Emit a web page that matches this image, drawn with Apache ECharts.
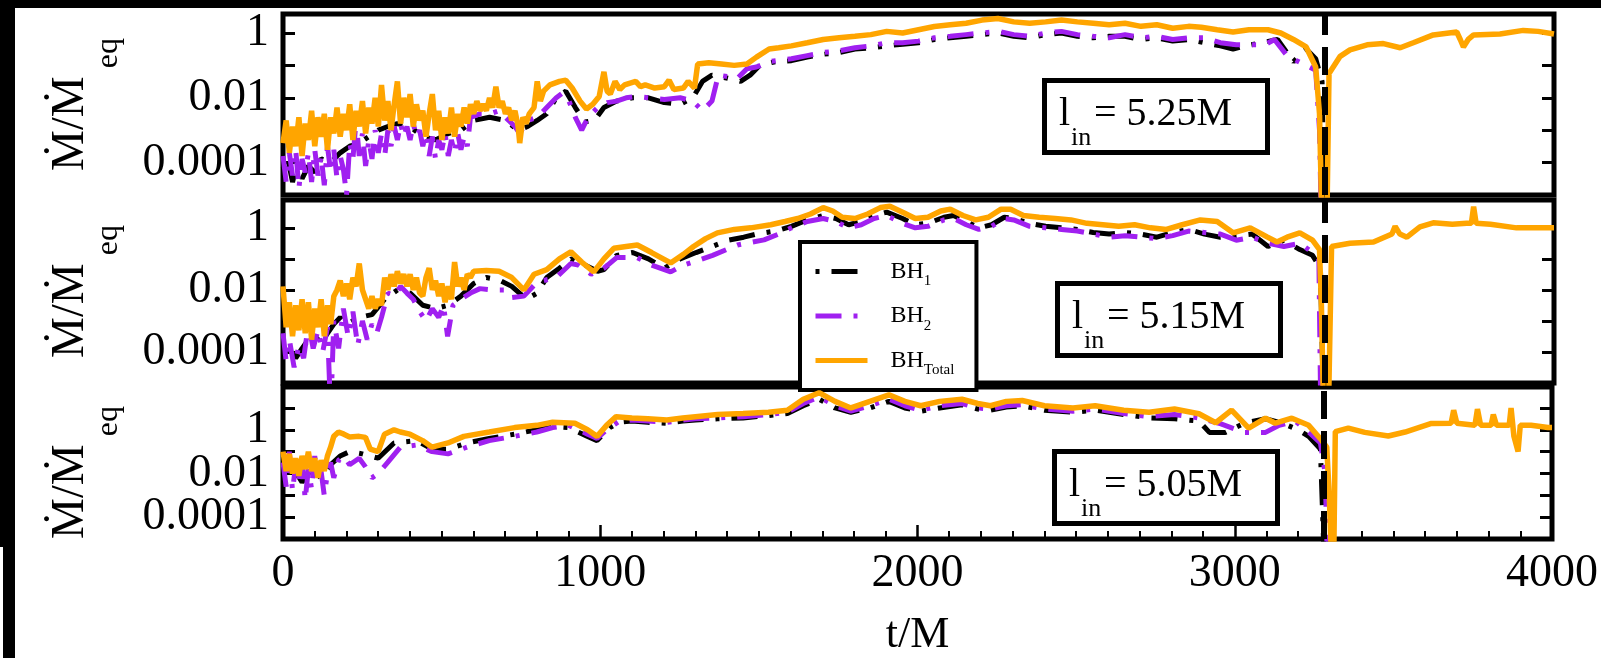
<!DOCTYPE html>
<html><head><meta charset="utf-8">
<script src="https://cdn.jsdelivr.net/npm/echarts@6/dist/echarts.min.js"></script>
<style>
html,body{margin:0;padding:0;background:#fff;overflow:hidden}
#chart{position:absolute;left:0;top:0;width:1601px;height:658px;background:#fff}
.blk{position:absolute;background:#000;z-index:5}
</style></head>
<body>
<div id="chart"></div>
<div class="blk" style="left:0;top:0;width:1601px;height:8px"></div>
<div class="blk" style="left:0;top:0;width:15px;height:547px"></div>
<div class="blk" style="left:3px;top:547px;width:12px;height:111px"></div>
<script>
// ---------- axis settings / labels ----------
const tMin = 0, tMax = 4000, tStep = 1000;
const mergerT = 3280;
const yMin = 1e-5;
const yMaxPanels = [3.85, 7.9, 91];
const yTickValues = [1, 0.01, 0.0001];
const yTickText = ['1', '0.01', '0.0001'];
const seriesNames = ['BH1', 'BH2', 'BHTotal'];
const legendSub = ['1', '2', 'Total'];
const linLabels = ['5.25M', '5.15M', '5.05M'];
const yTitle = '{m|\u1E40/\u1E40}{e|eq}';

// ---------- data: [t/M, Mdot/Mdot_eq] ----------
// panel 1 (l_in = 5.25M)
const p1BH1 = [[0,6.3e-5],[15,1.3e-4],[30,2.5e-5],[45,1.0e-4],[60,3.2e-5],[80,7.9e-5],[100,5.0e-5],[120,1.3e-4],[150,1.0e-4],[180,2.0e-4],[210,3.2e-4],[240,4.0e-4],[270,6.3e-4],[300,1.0e-3],[330,1.3e-3],[360,1.6e-3],[400,1.3e-3],[440,6.3e-4],[480,5.0e-4],[520,7.9e-4],[560,1.0e-3],[600,2.0e-3],[650,2.5e-3],[700,2.0e-3],[740,1.0e-3],[770,1.3e-3],[800,2.0e-3],[830,3.2e-3],[860,1.0e-2],[890,1.6e-2],[920,5.0e-3],[950,1.8e-3],[980,2.0e-3],[1010,5.0e-3],[1050,7.9e-3],[1100,1.0e-2],[1150,1.0e-2],[1200,7.1e-3],[1250,6.3e-3],[1290,1.0e-2],[1320,3.2e-2],[1350,5.0e-2],[1400,4.0e-2],[1440,3.2e-2],[1470,5.0e-2],[1500,0.1],[1550,0.13],[1600,0.14],[1650,0.18],[1700,0.22],[1750,0.25],[1800,0.32],[1850,0.35],[1900,0.40],[1950,0.45],[2000,0.50],[2050,0.63],[2100,0.71],[2150,0.79],[2200,0.89],[2250,1.0],[2300,0.79],[2350,0.71],[2400,0.89],[2450,1.0],[2500,0.79],[2550,0.71],[2600,0.79],[2650,0.79],[2700,0.63],[2750,0.71],[2800,0.56],[2850,0.63],[2900,0.50],[2950,0.40],[2990,0.32],[3030,0.40],[3080,0.50],[3130,0.63],[3180,0.13],[3220,0.32],[3250,0.16],[3270,3.2e-2],[3278,1e-6]];
const p1BH2 = [[0,1.6e-4],[10,2.5e-5],[20,2.0e-4],[30,4.0e-5],[40,2.5e-4],[50,1.6e-5],[60,1.3e-4],[70,5.0e-5],[80,2.0e-4],[90,2.5e-5],[100,2.5e-4],[110,4.0e-5],[120,1.6e-4],[130,2.0e-5],[140,3.2e-4],[150,5.0e-5],[160,2.5e-4],[170,3.2e-5],[180,1.6e-4],[190,6.3e-5],[200,1.0e-5],[210,4.0e-4],[220,1.3e-4],[230,2.0e-3],[240,1.6e-4],[250,7.9e-4],[260,7.9e-5],[270,5.0e-4],[280,1.3e-4],[290,1.0e-3],[300,2.0e-4],[310,7.9e-4],[320,1.6e-4],[330,1.0e-3],[340,3.2e-4],[350,1.3e-3],[360,5.0e-4],[370,1.6e-3],[380,6.3e-4],[390,1.3e-3],[400,5.0e-4],[410,1.6e-3],[420,6.3e-4],[430,1.0e-3],[440,3.2e-4],[450,7.9e-4],[460,1.6e-4],[470,6.3e-4],[480,1.3e-4],[490,5.0e-4],[500,2.5e-4],[510,7.9e-4],[520,1.6e-4],[530,5.0e-4],[540,2.0e-4],[550,7.9e-4],[560,2.5e-4],[570,6.3e-4],[580,3.2e-4],[590,2.5e-3],[620,3.2e-3],[650,3.2e-3],[680,4.0e-3],[700,2.5e-3],[730,1.3e-3],[745,7.9e-4],[770,2.0e-3],[800,2.5e-3],[830,5.0e-3],[860,1.0e-2],[880,1.4e-2],[900,7.9e-3],[920,2.5e-3],[940,1.0e-3],[960,2.5e-3],[990,5.0e-3],[1020,7.1e-3],[1050,7.9e-3],[1080,1.0e-2],[1110,1.1e-2],[1150,1.0e-2],[1200,8.9e-3],[1250,1.0e-2],[1290,7.9e-3],[1320,4.0e-3],[1350,7.9e-3],[1370,5.0e-2],[1400,4.5e-2],[1430,4.0e-2],[1460,7.9e-2],[1490,8.9e-2],[1530,0.13],[1600,0.16],[1650,0.20],[1700,0.25],[1750,0.28],[1800,0.35],[1850,0.40],[1900,0.50],[1950,0.50],[2000,0.56],[2050,0.71],[2100,0.79],[2150,0.89],[2200,1.0],[2250,1.12],[2300,0.89],[2350,0.79],[2400,1.0],[2450,1.12],[2500,0.89],[2550,0.79],[2600,0.71],[2650,0.89],[2700,0.71],[2750,0.79],[2800,0.63],[2850,0.71],[2900,0.71],[2950,0.50],[3000,0.43],[3050,0.43],[3090,0.43],[3120,0.63],[3160,0.20],[3190,0.14],[3220,0.10],[3250,0.071],[3262,1.0e-3],[3268,1e-6]];
const p1Total = [[0,4.0e-4],[10,2.0e-3],[20,2.0e-4],[30,1.3e-3],[40,3.2e-4],[50,2.5e-3],[60,1.6e-4],[70,1.6e-3],[80,5.0e-4],[90,4.0e-3],[100,3.2e-4],[110,2.5e-3],[120,6.3e-4],[130,3.2e-3],[140,2.5e-4],[150,2.5e-3],[160,7.9e-4],[170,5.0e-3],[180,6.3e-4],[190,3.2e-3],[200,1.0e-3],[210,6.3e-3],[220,5.0e-4],[230,4.0e-3],[240,1.3e-3],[250,7.9e-3],[260,7.9e-4],[270,5.0e-3],[280,1.6e-3],[290,1.0e-2],[300,1.3e-3],[310,2.5e-2],[320,2.0e-3],[330,7.9e-3],[340,1.0e-3],[350,6.3e-3],[360,3.2e-2],[370,1.6e-3],[380,1.0e-2],[390,2.5e-3],[400,1.3e-2],[410,1.3e-3],[420,6.3e-3],[430,2.0e-3],[440,4.0e-3],[450,6.3e-4],[460,3.2e-3],[470,1.3e-2],[480,1.0e-3],[490,4.0e-3],[500,5.0e-4],[510,2.5e-3],[520,7.9e-4],[530,5.0e-3],[540,6.3e-4],[550,3.2e-3],[560,1.3e-3],[570,5.0e-3],[580,1.6e-3],[590,6.3e-3],[600,3.2e-3],[610,7.9e-3],[620,4.0e-3],[630,6.3e-3],[640,4.0e-3],[650,1.0e-2],[660,5.0e-3],[670,2.2e-2],[680,5.0e-3],[690,7.9e-3],[700,3.2e-3],[710,5.0e-3],[720,2.0e-3],[730,4.0e-3],[740,1.3e-3],[745,4.0e-4],[755,2.5e-3],[765,1.6e-3],[775,3.2e-3],[790,5.0e-3],[800,3.2e-2],[810,7.9e-3],[820,1.6e-2],[840,2.5e-2],[870,3.2e-2],[890,3.5e-2],[910,2.0e-2],[935,7.9e-3],[955,4.5e-3],[975,6.3e-3],[995,1.1e-2],[1010,6.3e-2],[1020,1.6e-2],[1030,1.3e-2],[1045,3.2e-2],[1060,1.8e-2],[1075,2.5e-2],[1090,2.8e-2],[1110,3.2e-2],[1125,2.2e-2],[1140,2.5e-2],[1170,2.0e-2],[1200,2.2e-2],[1215,3.5e-2],[1230,1.8e-2],[1260,2.0e-2],[1275,3.2e-2],[1295,2.0e-2],[1305,0.11],[1340,0.12],[1380,0.11],[1420,0.10],[1460,0.11],[1490,0.18],[1530,0.32],[1560,0.35],[1600,0.40],[1650,0.50],[1700,0.63],[1750,0.71],[1800,0.79],[1850,0.89],[1900,1.12],[1950,1.0],[2000,1.26],[2050,1.58],[2100,1.78],[2150,2.0],[2200,2.5],[2250,2.8],[2300,2.2],[2350,2.0],[2400,2.2],[2450,2.5],[2500,2.2],[2550,2.0],[2600,1.8],[2650,2.0],[2700,1.6],[2750,1.8],[2800,1.4],[2850,1.6],[2890,1.5],[2940,1.26],[2990,1.07],[3040,1.26],[3100,1.26],[3140,1.0],[3180,0.63],[3220,0.37],[3250,0.089],[3262,3.2e-3],[3270,1e-6],[3285,1e-6],[3292,0.056],[3327,0.19],[3358,0.30],[3412,0.43],[3463,0.47],[3516,0.35],[3557,0.50],[3620,0.87],[3694,1.07],[3705,0.63],[3715,0.37],[3730,0.63],[3747,0.87],[3830,0.93],[3903,1.2],[3950,1.12],[4000,0.93]];

// panel 2 (l_in = 5.15M)
const p2BH1 = [[0,1.0e-4],[20,1.6e-4],[40,6.3e-5],[60,1.3e-4],[80,2.5e-4],[100,3.2e-4],[120,2.0e-4],[140,4.0e-4],[160,7.9e-4],[180,1.3e-3],[200,7.9e-4],[240,1.3e-3],[280,1.6e-3],[320,5.0e-3],[360,1.0e-2],[400,7.9e-3],[440,3.2e-3],[480,2.5e-3],[520,3.2e-3],[560,6.3e-3],[600,1.6e-2],[640,2.5e-2],[680,2.1e-2],[720,1.3e-2],[766,5.0e-3],[800,7.9e-3],[830,2.5e-2],[870,5.0e-2],[906,0.1],[950,6.3e-2],[990,4.0e-2],[1010,4.5e-2],[1050,0.13],[1100,0.16],[1150,0.1],[1200,5.0e-2],[1250,0.1],[1300,0.16],[1350,0.25],[1400,0.4],[1450,0.5],[1490,0.63],[1550,0.79],[1600,1.12],[1650,1.8],[1700,2.5],[1740,2.0],[1780,1.26],[1820,1.6],[1860,2.5],[1900,3.2],[1950,2.0],[1990,1.26],[2030,1.4],[2080,2.2],[2110,2.5],[2150,1.6],[2190,1.0],[2230,1.26],[2270,2.2],[2300,2.0],[2350,1.4],[2400,1.12],[2450,1.0],[2500,0.89],[2550,0.71],[2600,0.63],[2650,0.71],[2700,0.63],[2750,0.5],[2800,0.71],[2850,0.89],[2900,0.63],[2950,0.5],[3000,0.56],[3050,0.63],[3100,0.25],[3150,0.4],[3200,0.2],[3240,0.13],[3265,0.05],[3275,1e-6]];
const p2BH2 = [[0,4.0e-4],[10,5.0e-5],[20,2.5e-4],[35,3.2e-5],[50,1.6e-4],[65,6.3e-5],[80,7.9e-4],[95,1.3e-4],[110,5.0e-4],[125,1.0e-4],[140,6.3e-4],[150,1e-6],[160,1.0e-3],[175,1.3e-4],[190,2.5e-3],[205,3.2e-4],[220,2.0e-3],[235,1.6e-4],[250,1.0e-3],[265,2.5e-4],[280,7.9e-4],[295,4.0e-4],[310,1.3e-3],[330,7.9e-3],[350,6.3e-3],[370,1.3e-2],[390,7.9e-3],[410,5.0e-3],[430,2.0e-3],[450,1.0e-3],[470,2.5e-3],[490,1.3e-3],[505,3.2e-3],[518,3.2e-4],[535,3.2e-3],[560,5.0e-3],[590,7.9e-3],[620,1.1e-2],[660,1.0e-2],[695,1.0e-2],[716,5.6e-3],[758,6.3e-3],[800,1.8e-2],[860,2.5e-2],[906,7.1e-2],[930,6.3e-2],[970,3.2e-2],[1010,5.0e-2],[1050,0.11],[1115,0.11],[1160,6.3e-2],[1220,3.8e-2],[1260,6.3e-2],[1290,7.9e-2],[1352,0.13],[1430,0.28],[1514,0.41],[1560,0.63],[1600,1.0],[1650,1.6],[1700,2.0],[1740,1.6],[1780,1.0],[1820,1.26],[1860,2.0],[1900,2.5],[1950,1.4],[1990,1.0],[2030,1.12],[2080,1.8],[2110,2.0],[2150,1.26],[2190,0.89],[2230,1.12],[2270,2.0],[2300,1.8],[2350,1.12],[2400,1.0],[2450,0.89],[2500,0.79],[2550,0.63],[2600,0.50],[2650,0.56],[2700,0.50],[2750,0.45],[2800,0.56],[2850,0.79],[2900,0.71],[2950,0.63],[3000,0.40],[3050,0.50],[3100,0.32],[3150,0.25],[3200,0.32],[3240,0.16],[3260,0.1],[3266,1e-6]];
const p2Total = [[0,1.3e-2],[10,6.3e-4],[20,4.0e-3],[30,3.2e-4],[40,3.2e-3],[50,5.0e-4],[60,5.0e-3],[70,4.0e-4],[80,4.0e-3],[90,2.5e-4],[100,2.5e-3],[110,6.3e-4],[120,5.0e-3],[130,3.2e-4],[140,3.2e-3],[150,7.9e-4],[160,6.3e-3],[170,1.0e-2],[180,2.0e-2],[190,6.3e-3],[200,1.6e-2],[210,5.0e-3],[220,2.5e-2],[230,1.3e-2],[240,7.1e-2],[250,1.0e-2],[260,5.0e-3],[270,2.5e-3],[280,6.3e-3],[290,2.5e-3],[300,5.0e-3],[310,3.2e-3],[320,2.5e-2],[330,1.0e-2],[340,3.2e-2],[350,1.3e-2],[360,4.0e-2],[370,1.6e-2],[380,3.2e-2],[390,1.3e-2],[400,3.2e-2],[410,1.0e-2],[420,2.5e-2],[430,7.9e-3],[440,6.3e-3],[450,2.5e-2],[460,5.0e-2],[470,1.0e-2],[480,2.0e-2],[490,6.3e-3],[500,1.6e-2],[510,4.0e-3],[520,1.3e-2],[530,5.0e-3],[540,7.9e-2],[550,1.3e-2],[560,2.5e-2],[570,1.0e-2],[580,3.2e-2],[590,2.5e-2],[600,4.0e-2],[640,4.2e-2],[680,4.0e-2],[720,2.5e-2],[758,1.0e-2],[790,3.2e-2],[830,4.5e-2],[870,0.1],[906,0.17],[940,7.9e-2],[978,3.8e-2],[1010,0.1],[1041,0.22],[1080,0.25],[1115,0.28],[1160,0.16],[1220,7.4e-2],[1260,0.14],[1292,0.25],[1330,0.45],[1367,0.69],[1420,0.89],[1472,1.0],[1535,1.26],[1580,1.6],[1620,2.0],[1660,2.8],[1700,4.5],[1730,3.5],[1760,2.2],[1800,2.0],[1840,2.8],[1880,4.5],[1910,5.0],[1950,3.2],[1990,2.0],[2030,2.2],[2070,3.5],[2100,4.0],[2140,2.5],[2180,1.8],[2220,2.2],[2260,4.0],[2290,4.0],[2330,2.5],[2380,2.2],[2430,2.0],[2480,1.8],[2530,1.4],[2580,1.26],[2630,1.12],[2680,1.26],[2730,1.0],[2780,0.89],[2830,1.26],[2887,1.8],[2940,1.6],[2990,0.69],[3044,1.0],[3097,0.51],[3128,0.35],[3160,0.50],[3200,0.69],[3240,0.40],[3262,0.20],[3268,3.2e-3],[3275,1e-6],[3290,1e-6],[3300,0.25],[3358,0.32],[3432,0.35],[3490,0.63],[3500,1.12],[3515,0.63],[3537,0.50],[3578,1.07],[3620,1.45],[3680,1.3],[3725,1.4],[3740,1.4],[3747,4.8],[3755,1.4],[3800,1.3],[3882,1.0],[3934,1.0],[3987,1.0],[4000,1.0]];

// panel 3 (l_in = 5.05M)
const p3BH1 = [[0,1.0e-2],[30,2.0e-2],[60,4.0e-3],[90,1.6e-2],[120,6.3e-3],[150,2.5e-2],[180,6.3e-2],[210,0.1],[250,7.9e-2],[300,5.0e-2],[350,0.25],[420,0.32],[470,0.13],[520,0.13],[580,0.25],[650,0.4],[730,0.63],[800,1.0],[850,1.4],[900,1.26],[960,0.5],[990,0.32],[1030,1.26],[1060,2.2],[1100,2.5],[1150,2.2],[1210,2.0],[1260,2.5],[1300,2.8],[1370,3.2],[1450,3.5],[1530,4.5],[1590,5.6],[1640,12.6],[1690,25],[1740,10],[1790,6.3],[1850,10],[1910,20],[1960,10],[2010,7.1],[2070,10],[2140,14],[2190,8.9],[2230,7.9],[2280,11],[2330,12.6],[2400,7.9],[2490,6.3],[2560,7.9],[2650,5.0],[2730,3.5],[2810,3.2],[2887,2.5],[2920,0.76],[2970,0.76],[3030,2.0],[3097,3.2],[3150,2.0],[3200,1.0],[3233,0.5],[3270,0.13],[3282,1e-6]];
const p3BH2 = [[0,3.2e-2],[10,2.5e-3],[20,0.1],[30,1.6e-3],[40,2.5e-2],[50,4.0e-3],[60,5.0e-2],[70,6.3e-4],[80,1.6e-2],[90,2.0e-3],[100,6.3e-2],[110,5.0e-3],[120,1.3e-2],[130,1.0e-3],[140,1.0e-2],[150,3.2e-2],[160,6.3e-3],[175,4.0e-2],[192,6.3e-2],[210,2.5e-2],[240,5.0e-2],[260,2.0e-2],[280,6.3e-3],[300,1.0e-2],[330,3.2e-2],[370,0.16],[420,0.2],[470,0.1],[520,7.9e-2],[580,0.16],[650,0.32],[730,0.5],[800,0.79],[850,1.26],[900,1.6],[960,0.63],[990,0.4],[1020,1.0],[1060,2.5],[1100,2.8],[1150,2.5],[1210,2.2],[1260,2.8],[1300,3.2],[1370,3.5],[1450,4.0],[1530,5.0],[1590,6.3],[1640,16],[1690,32],[1740,12.6],[1790,7.1],[1850,12.6],[1910,25],[1960,12.6],[2010,7.9],[2070,12.6],[2140,16],[2190,10],[2230,8.9],[2280,12.6],[2330,14],[2400,8.9],[2490,7.1],[2560,8.9],[2650,5.6],[2730,4.0],[2810,5.0],[2887,3.5],[2950,2.0],[3030,0.76],[3097,0.76],[3140,1.6],[3190,2.5],[3233,0.79],[3270,0.25],[3285,1.0e-2],[3292,1e-6]];
const p3Total = [[0,0.1],[10,1.3e-2],[20,7.9e-2],[30,1.0e-2],[40,5.0e-2],[50,7.9e-3],[60,6.3e-2],[70,1.6e-2],[80,0.1],[90,1.3e-2],[100,5.0e-2],[110,6.3e-3],[120,4.0e-2],[130,1.3e-2],[140,6.3e-2],[150,0.16],[160,0.5],[175,0.79],[192,0.63],[210,0.47],[240,0.5],[260,0.45],[275,0.13],[300,0.1],[320,0.63],[350,1.0],[370,0.79],[400,0.63],[440,0.32],[470,0.16],[520,0.25],[570,0.5],[650,0.79],[730,1.26],[800,1.6],[850,2.2],[920,2.0],[960,1.0],[990,0.5],[1020,1.6],[1050,4.0],[1100,3.5],[1150,3.2],[1210,2.8],[1260,3.5],[1300,4.0],[1370,5.0],[1450,5.6],[1530,6.3],[1590,7.9],[1640,25],[1690,50],[1740,20],[1790,10],[1850,20],[1910,40],[1960,20],[2010,12.6],[2070,20],[2140,25],[2190,16],[2230,12.6],[2280,20],[2330,22],[2400,12.6],[2490,10],[2560,12.6],[2650,7.9],[2730,6.3],[2810,8.9],[2887,5.4],[2940,2.1],[2990,7.9],[3044,1.2],[3097,3.4],[3128,2.0],[3180,3.4],[3233,1.6],[3274,0.33],[3290,0.16],[3298,1.0e-3],[3305,1e-6],[3312,1e-6],[3317,0.83],[3358,1.2],[3410,0.76],[3484,0.52],[3537,0.79],[3620,1.95],[3682,2.0],[3690,7.9],[3700,2.0],[3757,1.6],[3765,8.9],[3775,1.6],[3808,1.6],[3815,5.0],[3825,1.6],[3865,1.6],[3871,10],[3880,0.5],[3893,0.1],[3900,1.6],[3934,1.6],[3987,1.26],[4000,1.26]];

const panelData = [[p1BH1, p1BH2, p1Total], [p2BH1, p2BH2, p2Total], [p3BH1, p3BH2, p3Total]];

// ---------- styling ----------
const FONT = '"Liberation Serif", "DejaVu Serif", serif';
const colors = ['#000000', '#A020F0', '#FFA500'];
const dashTypes = [[4, 12, 26, 12], [26, 12, 4, 12], 'solid'];
const lineWidths = [5, 5, 5.5];
const grids = [
  {left: 283, width: 1271, top: 14, height: 181},
  {left: 283, width: 1271, top: 200, height: 183},
  {left: 283, width: 1271, top: 387, height: 171}
];
const boxes = [{x: 1042, y: 78}, {x: 1055, y: 281}, {x: 1052, y: 449}];
const yTitleX = 71;

function fmtY(v) {
  const lv = Math.log10(v);
  for (let k = 0; k < yTickValues.length; k++) {
    if (Math.abs(lv - Math.log10(yTickValues[k])) < 0.01) return yTickText[k];
  }
  return '';
}

const chart = echarts.init(document.getElementById('chart'), null, {renderer: 'canvas'});

const gridOpts = grids.map(g => Object.assign({
  show: true, borderColor: '#000', borderWidth: 5, backgroundColor: 'transparent', containLabel: false
}, g));

const xAxes = grids.map((g, i) => ({
  type: 'value', gridIndex: i, min: tMin, max: tMax, interval: tStep,
  show: i === 2,
  axisLine: {show: false},
  splitLine: {show: false},
  axisTick: {show: true, inside: true, length: 14, lineStyle: {color: '#000', width: 2.5}},
  minorTick: {show: true, splitNumber: 10, length: 8, lineStyle: {color: '#000', width: 2}},
  axisLabel: {fontFamily: FONT, fontSize: 46, color: '#000', margin: 12, formatter: v => String(v)},
  name: i === 2 ? 't/M' : '',
  nameLocation: 'middle', nameGap: 74,
  nameTextStyle: {fontFamily: FONT, fontSize: 44, color: '#000'}
}));

const yAxes = [];
grids.forEach((g, i) => {
  const common = {
    type: 'log', logBase: 10, gridIndex: i, min: yMin, max: yMaxPanels[i], interval: 1,
    axisLine: {show: false}, splitLine: {show: false},
    axisTick: {show: true, inside: true, length: 12, lineStyle: {color: '#000', width: 3}}
  };
  yAxes.push(Object.assign({}, common, {
    position: 'left',
    axisLabel: {fontFamily: FONT, fontSize: 46, color: '#000', margin: 14, formatter: fmtY, showMinLabel: true, showMaxLabel: true}
  }));
  yAxes.push(Object.assign({}, common, {
    position: 'right',
    axisLabel: {show: false}
  }));
});

const series = [];
panelData.forEach((sets, i) => {
  sets.forEach((d, k) => {
    const s = {
      type: 'line', name: seriesNames[k], xAxisIndex: i, yAxisIndex: 2 * i,
      data: d, showSymbol: false, symbol: 'none', clip: true, animation: false,
      z: 2 + k,
      lineStyle: {color: colors[k], width: lineWidths[k], type: dashTypes[k]},
      itemStyle: {color: colors[k]}
    };
    if (k === 2) {
      s.markLine = {
        silent: true, symbol: ['none', 'none'], animation: false,
        label: {show: false},
        lineStyle: {color: '#000', width: 6, type: [28, 12]},
        data: [{xAxis: mergerT}]
      };
    }
    series.push(s);
  });
});

const graphics = [];
// rotated y-axis titles (one per panel)
grids.forEach((g) => {
  graphics.push({type: 'text', z: 50, x: yTitleX, y: g.top + g.height / 2, rotation: Math.PI / 2,
    style: {
      text: yTitle, align: 'center', verticalAlign: 'middle',
      rich: {
        m: {fontFamily: FONT, fontSize: 46, lineHeight: 46, fill: '#000', color: '#000'},
        e: {fontFamily: FONT, fontSize: 32, lineHeight: 32, fill: '#000', color: '#000', padding: [85, 0, 9, 8]}
      }
    }});
});
boxes.forEach((b, i) => {
  graphics.push({type: 'rect', left: b.x, top: b.y, z: 100,
    shape: {width: 223, height: 72},
    style: {fill: '#fff', stroke: '#000', lineWidth: 5}});
  graphics.push({type: 'text', z: 101, x: b.x + 17, y: b.y + 36,
    style: {text: 'l', font: '40px ' + FONT, fill: '#000', verticalAlign: 'middle', align: 'left'}});
  graphics.push({type: 'text', z: 101, x: b.x + 29, y: b.y + 60,
    style: {text: 'in', font: '26px ' + FONT, fill: '#000', verticalAlign: 'middle', align: 'left'}});
  graphics.push({type: 'text', z: 101, x: b.x + 52, y: b.y + 36,
    style: {text: '= ' + linLabels[i], font: '40px ' + FONT, fill: '#000', verticalAlign: 'middle', align: 'left'}});
});

const option = {
  animation: false,
  backgroundColor: '#fff',
  grid: gridOpts,
  xAxis: xAxes,
  yAxis: yAxes,
  legend: {
    data: seriesNames,
    orient: 'vertical', left: 800, top: 242,
    backgroundColor: '#fff', borderColor: '#000', borderWidth: 4, borderRadius: 0,
    padding: [12, 22, 12, 13],
    itemWidth: 52, itemHeight: 14, itemGap: 9.5,
    selectedMode: false,
    itemStyle: {opacity: 0, borderWidth: 0},
    lineStyle: {width: 5},
    formatter: name => '{b|BH}{s|' + legendSub[seriesNames.indexOf(name)] + '}',
    textStyle: {
      color: '#000',
      rich: {
        b: {fontFamily: FONT, fontSize: 24, lineHeight: 24, padding: [0, 0, 0, 18], color: '#000'},
        s: {fontFamily: FONT, fontSize: 15, lineHeight: 15, padding: [20, 0, 0, 0], color: '#000'}
      }
    }
  },
  graphic: graphics,
  series: series
};
chart.setOption(option);
</script>
</body></html>
